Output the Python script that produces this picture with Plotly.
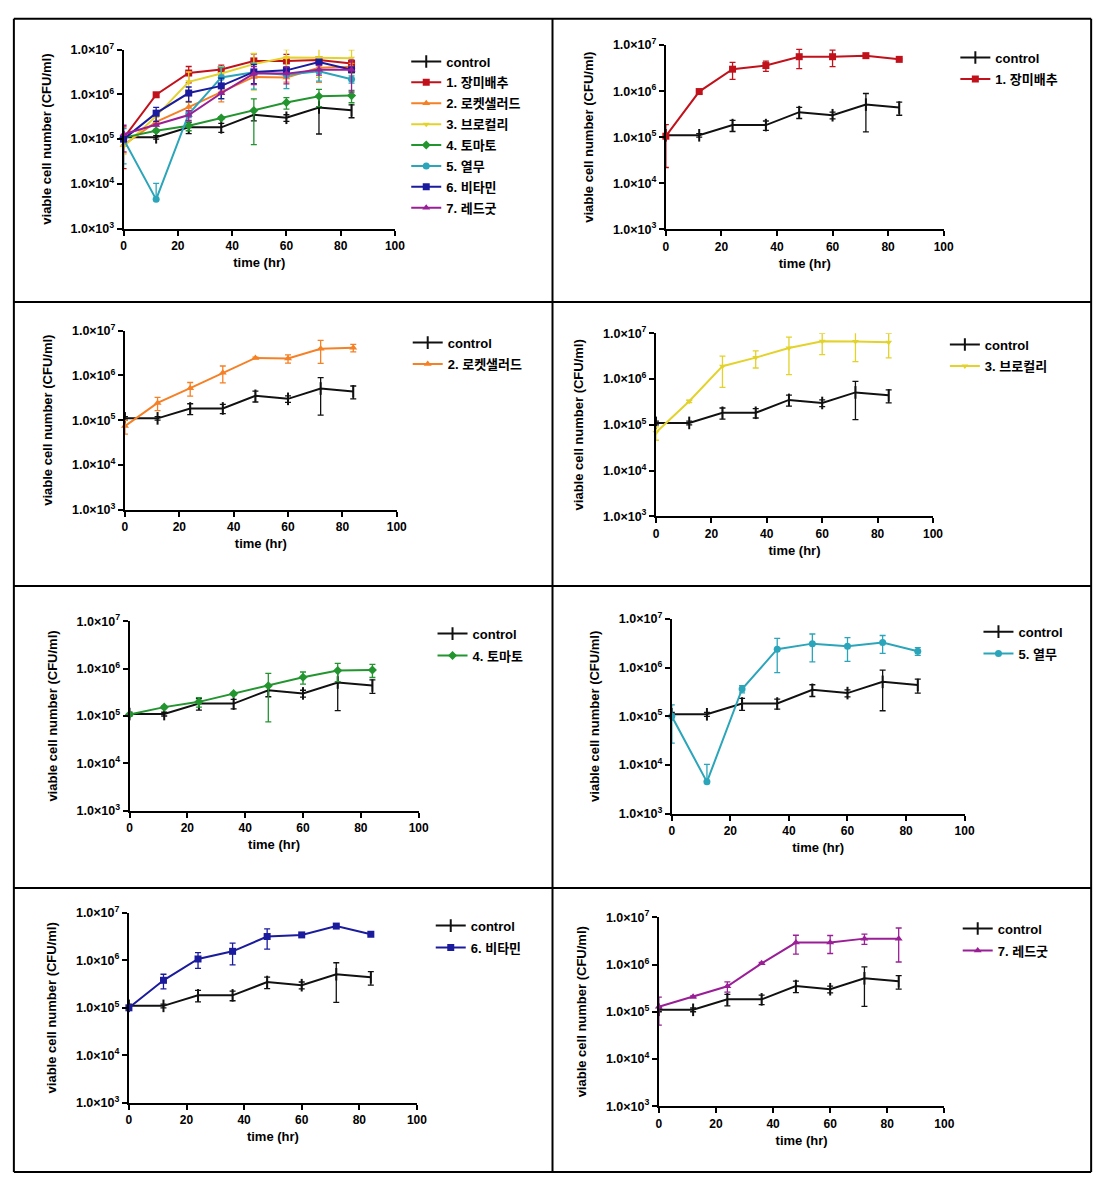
import plotly.graph_objects as go

# ---------------- data ----------------
time_hr = [0, 12, 24, 36, 48, 60, 72, 84]

control = [1.1e5, 1.1e5, 1.83e5, 1.83e5, 3.5e5, 3.0e5, 5.1e5, 4.4e5]
control_sd = [0.1e5, 0.1e5, 0.5e5, 0.42e5, 0.95e5, 0.5e5, 3.8e5, 1.4e5]

s1_cabbage = [1.05e5, 9.8e5, 3.0e6, 3.6e6, 5.6e6, 5.6e6, 5.9e6, 4.9e6]
s1_sd = [0.83e5, 0.1e6, 1.2e6, 0.9e6, 2.5e6, 2.2e6, 0.2e6, 0.2e6]

s2_rocket = [7.4e4, 2.43e5, 5.2e5, 1.15e6, 2.46e6, 2.38e6, 3.95e6, 4.15e6]
s2_sd = [2.5e4, 0.8e5, 1.75e5, 0.47e6, 0.1e6, 0.5e6, 2.1e6, 0.8e6]

s3_broccoli = [6.8e4, 3.26e5, 1.91e6, 2.94e6, 4.75e6, 6.7e6, 6.6e6, 6.4e6]
s3_sd = [2.2e4, 0.2e5, 1.25e6, 1.2e6, 3.5e6, 3.3e6, 4.2e6, 3.5e6]

s4_tomato = [1.08e5, 1.54e5, 1.99e5, 2.97e5, 4.35e5, 6.6e5, 9.1e5, 9.4e5]
s4_sd = [0.05e5, 0.1e5, 0.45e5, 0.2e5, 3.6e5, 1.9e5, 3.8e5, 2.9e5]

s5_radish = [1.0e5, 4.5e3, 3.64e5, 2.39e6, 3.11e6, 2.75e6, 3.27e6, 2.18e6]
s5_sd = [0.72e5, 5.8e3, 0.6e5, 1.6e6, 1.8e6, 1.4e6, 1.3e6, 0.4e6]

s6_vitamin = [1.0e5, 3.8e5, 1.07e6, 1.55e6, 3.18e6, 3.44e6, 5.28e6, 3.55e6]
s6_sd = [0.05e5, 1.3e5, 0.39e6, 0.75e6, 1.45e6, 0.2e6, 0.3e6, 0.2e6]

s7_redgood = [1.28e5, 2.07e5, 3.46e5, 1.06e6, 2.91e6, 2.91e6, 3.53e6, 3.53e6]
s7_sd = [0.76e5, 0.1e5, 0.85e5, 0.05e6, 1.25e6, 1.2e6, 0.85e6, 2.4e6]

series_names = ["control", "1. 장미배추", "2. 로켓샐러드", "3. 브로컬리",
                "4. 토마토", "5. 열무", "6. 비타민", "7. 레드굿"]
series_values = [control, s1_cabbage, s2_rocket, s3_broccoli,
                 s4_tomato, s5_radish, s6_vitamin, s7_redgood]
series_sd = [control_sd, s1_sd, s2_sd, s3_sd, s4_sd, s5_sd, s6_sd, s7_sd]

y_tickvals = [1e3, 1e4, 1e5, 1e6, 1e7]
y_ticktext = ["1.0×10<sup>3</sup>", "1.0×10<sup>4</sup>", "1.0×10<sup>5</sup>",
              "1.0×10<sup>6</sup>", "1.0×10<sup>7</sup>"]
x_tickvals = [0, 20, 40, 60, 80, 100]
x_title = "time (hr)"
y_title = "viable cell number (CFU/ml)"

# ---------------- styling ----------------
colors = ["#111111", "#C1121C", "#F58025", "#E3D22A", "#22952F",
          "#2BA5BA", "#1B1B9E", "#9A1F96"]
symbols = ["line-ns-open", "square", "triangle-up", "triangle-down",
           "diamond", "circle", "square", "triangle-up"]
msizes = [9, 7, 7, 6, 7, 7, 7, 7]

W, H = 1113, 1184
FONT = "Liberation Sans, Arial, Noto Sans CJK KR, sans-serif"

# panel geometry in pixels: x at 0, x at 100, y at 1e7, y at 1e3,
# legend left, legend top, group gap, series shown
panels = [
    (122.0, 396.6, 41.2, 222.6, 408, 38, 1.0, [0, 1, 2, 3, 4, 5, 6, 7]),
    (670.7, 951.8, 36.6, 223.3, 963.6, 34, 1.5, [0, 1]),
    (123.4, 398.4, 326.0, 507.7, 409.5, 323, 1.5, [0, 2]),
    (660.7, 941.0, 328.7, 514.3, 953.0, 325, 1.5, [0, 3]),
    (128.0, 420.6, 620.7, 812.7, 434.6, 618, 2.0, [0, 4]),
    (676.7, 973.0, 618.3, 815.7, 987.0, 616, 2.0, [0, 5]),
    (127.4, 418.8, 916.3, 1108.7, 432.8, 914, 2.0, [0, 6]),
    (663.6, 952.5, 920.7, 1112.3, 966.0, 917, 2.0, [0, 7]),
]

fig = go.Figure()
layout = dict(
    width=W, height=H, margin=dict(l=0, r=0, t=0, b=0),
    paper_bgcolor="white", plot_bgcolor="rgba(0,0,0,0)",
    font=dict(family=FONT, color="black", size=12, weight="bold"),
    showlegend=True,
)

for p, (x0, x100, y7, y3, lg_x, lg_top, gap, idxs) in enumerate(panels):
    n = p + 1
    xa = "x" if n == 1 else f"x{n}"
    ya = "y" if n == 1 else f"y{n}"
    lgname = "legend" if n == 1 else f"legend{n}"
    for i in idxs:
        vals = series_values[i]
        sd = series_sd[i]
        sd_minus = [s if s < v else 0 for s, v in zip(sd, vals)]
        fig.add_trace(go.Scatter(
            x=time_hr, y=vals, mode="lines+markers", name=series_names[i],
            xaxis=xa, yaxis=ya, legend=lgname, legendgroup=f"p{n}_{i}",
            cliponaxis=False,
            line=dict(color=colors[i], width=2),
            marker=dict(symbol=symbols[i], size=msizes[i], color=colors[i],
                        line=dict(color=colors[i], width=2 if i == 0 else 0)),
            error_y=dict(type="data", array=sd, arrayminus=sd_minus,
                         symmetric=False, color=colors[i], thickness=1.3,
                         width=3),
        ))
    axis_common = dict(
        showline=True, linecolor="black", linewidth=2, mirror=False,
        ticks="outside", ticklen=5, tickwidth=2, tickcolor="black",
        showgrid=False, zeroline=False,
    )
    layout["xaxis" if n == 1 else f"xaxis{n}"] = dict(
        axis_common, domain=[x0 / W, x100 / W], anchor=ya,
        range=[0, 100], tickvals=x_tickvals,
        tickfont=dict(family=FONT, size=12, color="black", weight="bold"),
        title=dict(text=x_title, standoff=6,
                   font=dict(family=FONT, size=13, color="black", weight="bold")),
    )
    layout["yaxis" if n == 1 else f"yaxis{n}"] = dict(
        axis_common, domain=[1 - y3 / H, 1 - y7 / H], anchor=xa,
        type="log", range=[3, 7], tickvals=y_tickvals, ticktext=y_ticktext,
        tickfont=dict(family=FONT, size=12.5, color="black", weight="bold"),
        title=dict(text=y_title, standoff=16,
                   font=dict(family=FONT, size=13, color="black", weight="bold")),
    )
    layout[lgname] = dict(
        x=lg_x / W, y=1 - lg_top / H, xanchor="left", yanchor="top",
        bgcolor="rgba(0,0,0,0)", borderwidth=0, tracegroupgap=gap,
        font=dict(family=FONT, size=13, color="black", weight="bold"),
        itemclick=False, itemdoubleclick=False,
    )

# table grid lines
col_x = [11, 556, 1101]
row_y = [10, 297, 585, 891, 1179]
shapes = []
for cx in col_x:
    shapes.append(dict(type="line", xref="paper", yref="paper",
                       x0=cx / W, x1=cx / W, y0=1 - row_y[0] / H, y1=1 - row_y[-1] / H,
                       line=dict(color="black", width=2)))
for ry in row_y:
    shapes.append(dict(type="line", xref="paper", yref="paper",
                       x0=col_x[0] / W, x1=col_x[-1] / W, y0=1 - ry / H, y1=1 - ry / H,
                       line=dict(color="black", width=2)))
layout["shapes"] = shapes

fig.update_layout(**layout)
fig.write_html(
    "out.html",
    config={"displayModeBar": False},
    post_script=("document.body.style.margin='0px';"
                 "document.body.style.overflow='hidden';"),
)
